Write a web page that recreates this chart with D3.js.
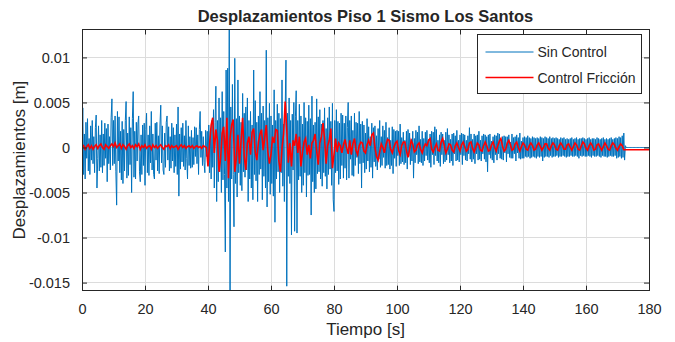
<!DOCTYPE html>
<html lang="es">
<head>
<meta charset="UTF-8">
<title>Desplazamientos Piso 1</title>
<script src="https://d3js.org/d3.v7.min.js"></script>
<style>
  body { margin: 0; background: #fff; }
  text { font-family: "Liberation Sans", Arial, Helvetica, sans-serif; fill: #262626; }
</style>
</head>
<body>
<script>
    const width  = 675;
    const height = 342;
    const box = {left: 82, right: 649, top: 29.5, bottom: 290.7};

    // displacement readings in units of 1e-4 m
    const unit = 1e-4;
    const stepSin = 0.25;   // s between samples, Sin Control
    const stepFric = 0.5;   // s between samples, Control Friccion

    const sinControl = [
      0, 44, -30, 15, -35, 28, -12, 32, -26, 10, -30, 24, -14, 30, -18, 12, -28, 22, 36, -45,
      -12, 24, -26, 14, -22, 30, -28, 15, -20, 27, -12, 21, -38, 26, -18, 12, -25, 33, 54, -20,
      30, -18, 35, -27, -64, 40, -15, 34, -28, 18, -36, 29, -40, 20, -26, 30, 51, -34, 16, -31,
      34, -19, 22, -50, 32, 62, -33, 18, -35, 28, -15, 26, 35, -27, -38, 14, -30, 25, -20, 27,
      -42, 20, 38, -28, 14, -31, 24, -17, 40, -25, 15, -30, -35, 27, -14, 28, -26, 13, -29, 25,
      47, -17, 24, -25, -30, 16, -22, 28, 35, -14, 23, -26, 12, -23, 27, -15, 22, -28, 14, -21,
      26, -30, 45, -54, 15, -24, 22, -16, 27, -21, 13, -25, 30, -12, -35, 24, -20, 12, -23, 19,
      -22, 11, -19, 23, -10, 22, -18, 14, -30, 20, 40, -11, 18, -20, 12, -17, -28, 19, -10, 18,
      -20, 25, -28, 18, -35, 30, -22, 42, -45, 28, 68, -60, 30, -38, 55, -27, 33, -50, 62, -36,
      40, -30, -116, 86, -45, 88, -60, 131, -159, 45, -35, 70, -30, -88, 99, -40, 32, -55, 75, -28,
      35, -42, 28, -48, 60, -27, 38, -33, 45, -25, 55, -60, 30, -35, 40, -45, 25, -58, 86, -30,
      52, -37, 28, -60, 35, -30, 62, -24, 38, -58, 46, -32, 30, -45, 108, -66, 33, -38, 49, -52,
      35, -40, 25, -54, 64, -83, 30, -35, 48, -27, 38, -50, 32, -28, 75, -43, 26, -60, 42, 97,
      -154, 38, -32, 55, -40, 30, -97, 37, -25, 50, -93, 34, 63, -95, 30, -36, 48, -32, 35, -50,
      26, -42, 50, -28, 33, -55, 29, -31, 47, -30, 32, -75, 57, -38, 25, -50, 28, -46, 54, -29,
      34, -27, 42, -35, 26, -43, 30, -28, 44, -32, 21, -46, 33, -30, 45, -24, 29, -42, 49, -58,
      -71, 30, -28, 42, -26, 29, -41, 27, -35, 38, -20, 36, -34, 27, -23, 35, -36, 22, 50, -34,
      30, -13, 35, -31, 19, -32, 38, -20, 28, -11, 27, -29, 40, -18, 26, -45, 29, -17, 25, -28,
      16, -24, 32, -15, 23, -27, 12, -22, 27, -34, 22, -16, 24, -21, 13, -25, 21, -13, 30, -22,
      12, -20, 24, -11, 19, -23, 28, -20, 11, -19, 22, -24, 8, -20, 23, -29, 20, -12, 18, -21,
      19, -9, 18, -20, 26, -18, 11, -16, 17, -19, 8, -17, 18, -24, 20, -10, 16, -19, 9, -15,
      18, -34, 10, -17, 19, -8, 17, -18, 24, -16, 9, -17, 18, -20, 10, -15, 17, -9, 19, -14,
      9, -17, 15, -22, 18, -8, 17, -19, 23, -9, 20, -15, 8, -17, 14, -21, 17, -8, 15, -18,
      8, -16, 17, -14, 21, -8, 14, -17, 9, -15, 15, -20, 16, -7, 13, -15, 19, -14, 8, -16,
      14, -8, 16, -19, 15, -9, 14, -14, 8, -15, 13, -7, 22, -13, 15, -16, 9, -13, 15, -18,
      13, -7, 14, -14, 18, -13, 8, -15, 13, -7, 15, -13, 14, -16, 12, -27, 14, -8, 15, -12,
      7, -14, 12, -17, 14, -8, 13, -14, 16, -7, 15, -12, 7, -13, 12, -14, 13, -6, 12, -16,
      12, -7, 14, -11, 6, -12, 15, -12, 11, -7, 12, -15, 14, -6, 11, -12, 16, -13, 7, -12,
      11, -12, 12, -10, 11, -11, 13, -10, 11, -12, 10, -11, 12, -10, 11, -11, 10, -12, 11, -10,
      10, -11, 12, -10, 11, -15, 10, -11, 12, -10, 11, -10, 10, -11, 12, -9, 10, -11, 11, -10,
      10, -10, 11, -9, 10, -11, 9, -10, 11, -10, 10, -9, 11, -10, 9, -11, 10, -10, 9, -10,
      10, -9, 11, -10, 9, -10, 10, -9, 11, -10, 9, -12, 10, -9, 10, -10, 11, -9, 10, -10,
      9, -10, 10, -9, 11, -10, 9, -11, 10, -9, 10, -10, 9, -10, 11, -9, 10, -10, 9, -11,
      10, -9, 11, -10, 9, -10, 10, -11, 9, -10, 10, -9, 11, -10, 9, -10, 10, -9, 11, -12,
      10, -11, 12, -10, 11, -12, 13, -11, 16, -14, 2, 0, 0, 0, 0, 0, 0, 0, 0, 0,
      0, 0, 0, 0, 0, 0, 0, 0, 0, 0, 0, 0, 0, 0, 0, 0, 0, 0, 0, 0,
      0
    ];

    const controlFriccion = [
      0, 2, -2, 1, 3, -1, 2, -2, 1, 3,
      -1, 2, 4, 0, -2, 3, 1, -1, 2, 4,
      1, 5, 0, 2, 4, -1, 3, 1, -2, 2,
      4, 0, 2, -1, 3, 1, 4, -2, 2, 0,
      3, -1, 1, 2, -2, 3, 0, 2, -1, 1,
      3, 0, -2, 2, 1, 3, -1, 2, 0, 1,
      2, -2, 1, 3, 0, 2, -1, 1, 2, 0,
      2, -1, 1, 2, 0, 1, -1, 2, 1, 0,
      -21, 4, 25, 33, -6, 20, 8, -27, -12, 16,
      23, -15, 33, -34, 10, 25, 31, -27, -12, 14,
      -18, 8, 33, -10, -25, 5, 12, -8, 17, 21,
      -5, -14, 6, 15, 20, -3, 10, 25, -5, -18,
      -8, 12, 5, 20, 19, -15, -27, 0, 15, 51,
      20, -17, 5, -21, 8, 2, 15, -6, 12, -21,
      -5, 6, 10, -8, 3, -12, 5, 8, 15, -4,
      -19, 5, 12, 27, 10, -18, 2, 8, 21, -23,
      -8, 10, -5, 5, 2, -6, 3, 9, 0, -7,
      8, -8, 4, 10, -3, -8, 2, 6, 5, -4,
      -6, 3, 8, 2, 14, 16, 0, -10, -14, -5,
      4, 0, -6, 3, 9, 8, -2, -6, 0, 5,
      7, -3, -8, 2, 6, 6, -4, -11, -2, 8,
      4, -5, -3, 3, 5, -2, -6, 0, 4, 2,
      8, 10, -2, -5, 0, 4, -3, -4, 6, 10,
      2, -6, -2, 4, 3, -3, -5, 2, 5, 0,
      -4, 3, 6, 1, -4, -2, 5, 6, -1, -5,
      0, 5, 3, -3, -4, 2, 6, 2, -4, -3,
      3, 6, 0, -4, 2, 7, 10, 1, -4, -2,
      5, 8, 3, -3, -2, 4, 6, 0, -4, 1,
      5, 3, -2, -3, 2, 5, 2, -3, -2, 3,
      5, 1, -3, 0, 4, 4, -1, -3, 2, 5,
      3, -2, -3, 2, 5, 2, -2, -2, 3, 4,
      0, -3, 1, 5, 3, -2, -3, 2, 6, 4,
      -1, -3, 2, 5, 2, -3, -2, 3, 4, 0,
      -3, 1, 5, 2, -2, -3, 2, 5, 3, -1,
      -3, 1, 4, 2, -2.5, -2.5, -2.5, -2.5, -2.5, -2.5,
      -2.5, -2.5, -2.5, -2.5, -2.5, -2.5, -2.5, -2.5, -2.5, -2.5,
      -2.5
    ];

    const xTicks = [0, 20, 40, 60, 80, 100, 120, 140, 160, 180];
    const yTicks = [-0.015, -0.01, -0.005, 0, 0.005, 0.01];
    const seriesNames = ["Sin Control", "Control Fricción"];
    const colors = ["#0072BD", "#FF0000"];

    const scaleX = d3.scaleLinear().domain([0, 180]).range([box.left, box.right]);
    const scaleY = d3.scaleLinear().domain([-0.0159, 0.0131]).range([box.bottom, box.top]);

    const svg = d3.select("body").append("svg").attr("width", width).attr("height", height);
    svg.append("rect").attr("width", width).attr("height", height).attr("fill", "#fff");

    svg.append("defs").append("clipPath").attr("id", "clip")
        .append("rect")
        .attr("x", box.left).attr("y", box.top)
        .attr("width", box.right - box.left).attr("height", box.bottom - box.top);

    // grid
    const grid = svg.append("g").attr("class", "grid");
    grid.selectAll("line.gx").data(xTicks).enter().append("line")
        .attr("x1", d => scaleX(d)).attr("x2", d => scaleX(d))
        .attr("y1", box.top).attr("y2", box.bottom);
    grid.selectAll("line.gy").data(yTicks).enter().append("line")
        .attr("y1", d => scaleY(d)).attr("y2", d => scaleY(d))
        .attr("x1", box.left).attr("x2", box.right);
    grid.selectAll("line").attr("stroke", "#dcdcdc").attr("stroke-width", 1).attr("shape-rendering", "crispEdges");

    const line = d3.line().x(d => scaleX(d[0])).y(d => scaleY(d[1]));
    const toPoints = (vals, step) => vals.map((v, i) => [i * step, v * unit]);

    const plot = svg.append("g").attr("clip-path", "url(#clip)");
    plot.append("path")
        .datum(toPoints(sinControl, stepSin))
        .attr("d", line)
        .attr("fill", "none")
        .attr("stroke", colors[0])
        .attr("stroke-width", 1);
    plot.append("path")
        .datum(toPoints(controlFriccion, stepFric))
        .attr("d", line)
        .attr("fill", "none")
        .attr("stroke", colors[1])
        .attr("stroke-width", 1.6);

    // axes (ticks inward on all four sides, matlab style)
    const fmtY = d => String(+d.toFixed(3));
    const axes = svg.append("g").attr("class", "axes");
    axes.append("g").attr("transform", "translate(0," + box.bottom + ")")
        .call(d3.axisBottom(scaleX).tickValues(xTicks).tickSizeInner(-5).tickSizeOuter(0).tickPadding(13));
    axes.append("g").attr("transform", "translate(0," + box.top + ")")
        .call(d3.axisTop(scaleX).tickValues(xTicks).tickSizeInner(-5).tickSizeOuter(0).tickFormat(""));
    axes.append("g").attr("transform", "translate(" + box.left + ",0)")
        .call(d3.axisLeft(scaleY).tickValues(yTicks).tickFormat(fmtY).tickSizeInner(-5).tickSizeOuter(0).tickPadding(12));
    axes.append("g").attr("transform", "translate(" + box.right + ",0)")
        .call(d3.axisRight(scaleY).tickValues(yTicks).tickSizeInner(-5).tickSizeOuter(0).tickFormat(""));
    axes.selectAll(".domain").remove();
    axes.selectAll(".tick line").attr("stroke", "#262626");
    axes.selectAll(".tick text").attr("font-size", 14.5).attr("fill", "#262626")
        .attr("font-family", "'Liberation Sans', Arial, sans-serif");

    svg.append("rect")
        .attr("x", box.left).attr("y", box.top)
        .attr("width", box.right - box.left).attr("height", box.bottom - box.top)
        .attr("fill", "none").attr("stroke", "#262626").attr("stroke-width", 1)
        .attr("shape-rendering", "crispEdges");

    // labels
    svg.append("text")
        .attr("x", (box.left + box.right) / 2).attr("y", 22)
        .attr("text-anchor", "middle").attr("font-size", 16.5).attr("font-weight", "bold")
        .attr("fill", "#000")
        .text("Desplazamientos Piso 1 Sismo Los Santos");
    svg.append("text")
        .attr("x", (box.left + box.right) / 2).attr("y", 335)
        .attr("text-anchor", "middle").attr("font-size", 17)
        .text("Tiempo [s]");
    svg.append("text")
        .attr("transform", "translate(25," + (box.top + box.bottom) / 2 + ") rotate(-90)")
        .attr("text-anchor", "middle").attr("font-size", 17)
        .text("Desplazamientos [m]");

    // legend
    const legend = svg.append("g").attr("transform", "translate(477.5,34.5)");
    legend.append("rect").attr("width", 163.5).attr("height", 58.5)
        .attr("fill", "#fff").attr("stroke", "#262626").attr("stroke-width", 1)
        .attr("shape-rendering", "crispEdges");
    seriesNames.forEach((name, i) => {
        const yy = 17.5 + i * 25.5;
        legend.append("line").attr("x1", 8).attr("x2", 56).attr("y1", yy).attr("y2", yy)
            .attr("stroke", colors[i]).attr("stroke-width", i === 0 ? 1 : 1.6);
        legend.append("text").attr("x", 60).attr("y", yy + 5).attr("font-size", 14)
            .text(name);
    });
</script>
</body>
</html>
